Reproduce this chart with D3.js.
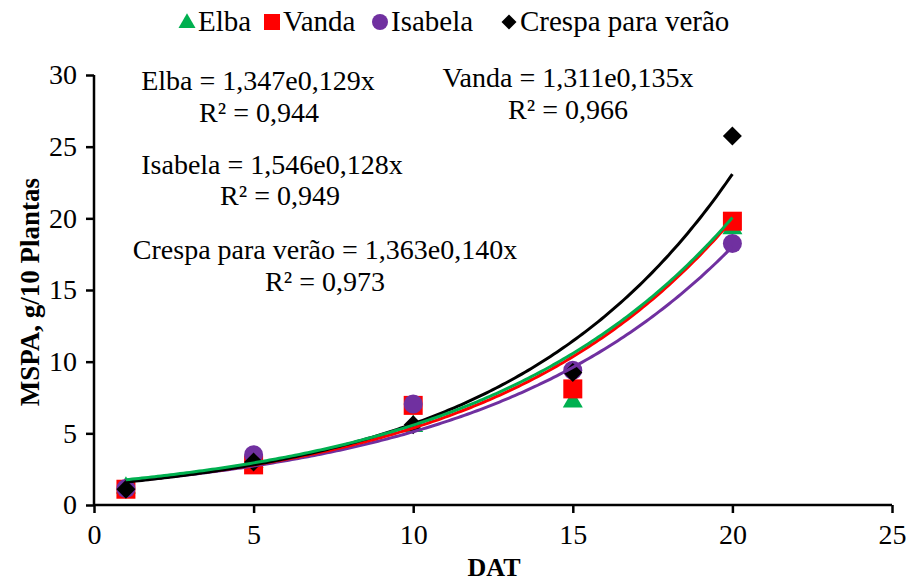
<!DOCTYPE html>
<html><head><meta charset="utf-8">
<script src="https://cdn.jsdelivr.net/npm/d3@7/dist/d3.min.js"></script>
<style>body{margin:0;background:#fff}svg{display:block}text{font-family:"Liberation Serif","Times New Roman",serif}</style>
</head><body><svg id="c" width="906" height="583"></svg>
<script>
const days = [1, 5, 10, 15, 20];
const seriesNames = ["Elba", "Vanda", "Isabela", "Crespa para verão"];
const elba = [1.2, 3.0, 5.5, 7.2, 19.3];
const vanda = [1.1, 2.8, 6.95, 8.1, 19.8];
const isabela = [1.15, 3.5, 7.05, 9.4, 18.25];
const crespa = [1.1, 3.0, 5.6, 9.25, 25.75];
// trend curves y = a*exp(b*x), as drawn in the picture
const trendA = [1.55, 1.45, 1.45, 1.39];
const trendB = [0.128, 0.131, 0.126, 0.1405];
const equations = ["Elba = 1,347e0,129x", "Vanda = 1,311e0,135x", "Isabela = 1,546e0,128x", "Crespa para verão = 1,363e0,140x"];
const r2Labels = ["R² = 0,944", "R² = 0,966", "R² = 0,949", "R² = 0,973"];
const xTicks = [0, 5, 10, 15, 20, 25];
const yTicks = [0, 5, 10, 15, 20, 25, 30];
const colors = ["#00B050", "#FF0000", "#7030A0", "#000000"];
const values = [elba, vanda, isabela, crespa];

const svg = d3.select("#c");
const x = d3.scaleLinear().domain([0, 25]).range([94, 892]);
const y = d3.scaleLinear().domain([0, 30]).range([505, 75]);

// marker shape generators (triangle, square, circle, diamond = rotated square)
function marker(i, s) {
  if (i === 0) { const h = s * Math.sqrt(3) / 2; return `M0,${-h * 2 / 3}L${s / 2},${h / 3}L${-s / 2},${h / 3}Z`; }
  if (i === 1) return `M${-s / 2},${-s / 2}h${s}v${s}h${-s}Z`;
  if (i === 2) return d3.symbol().type(d3.symbolCircle).size(Math.PI * s * s / 4)();
  return `M0,${-s / 2}L${s / 2},0L0,${s / 2}L${-s / 2},0Z`;
}

// axes
const xAxis = svg.append("g").attr("transform", `translate(0,${y(0)})`)
  .call(d3.axisBottom(x).tickValues(xTicks).tickSize(8).tickPadding(11));
const yAxis = svg.append("g").attr("transform", `translate(${x(0)},0)`)
  .call(d3.axisLeft(y).tickValues(yTicks).tickSize(8).tickPadding(9));
[xAxis, yAxis].forEach(g => {
  g.select(".domain").attr("stroke", "#000").attr("stroke-width", 2.5);
  g.selectAll(".tick line").attr("stroke", "#000").attr("stroke-width", 2.5);
  g.selectAll(".tick text").attr("font-size", 28).attr("fill", "#000")
    .style("font-family", '"Liberation Serif", serif');
});
xAxis.select(".domain").attr("d", `M${x(0)},0H${x(25)}`);
yAxis.select(".domain").attr("d", `M0,${y(0)}V${y(30)}`);

// markers
const mSize = [20, 19, 19, 19];
[0, 1, 2, 3].forEach(i => {
  svg.append("g").selectAll("path").data(days.map((d, k) => [d, values[i][k]])).join("path")
    .attr("transform", d => `translate(${x(d[0])},${y(d[1])})`)
    .attr("d", marker(i, mSize[i]))
    .attr("fill", colors[i]);
});

// trend lines
const xs = d3.range(1, 20.001, 0.1);
[2, 1, 3, 0].forEach(i => {
  const line = d3.line().x(d => x(d)).y(d => y(trendA[i] * Math.exp(trendB[i] * d)));
  svg.append("path").datum(xs).attr("d", line).attr("fill", "none")
    .attr("stroke", colors[i]).attr("stroke-width", 3);
});

// equation labels
const eqPos = [[258, 90], [568, 87], [272, 174], [325, 259]];
const r2Pos = [[259, 122], [568, 119], [280, 205], [325, 291]];
equations.forEach((t, i) => {
  svg.append("text").attr("x", eqPos[i][0]).attr("y", eqPos[i][1]).attr("text-anchor", "middle")
    .attr("font-size", 28).text(t);
  svg.append("text").attr("x", r2Pos[i][0]).attr("y", r2Pos[i][1]).attr("text-anchor", "middle")
    .attr("font-size", 28).text(r2Labels[i]);
});

// axis titles
svg.append("text").attr("x", 494).attr("y", 576).attr("text-anchor", "middle")
  .attr("font-size", 26).attr("font-weight", "bold").text("DAT");
svg.append("text").attr("transform", "translate(39,292) rotate(-90)").attr("text-anchor", "middle")
  .attr("font-size", 27).attr("font-weight", "bold").text("MSPA, g/10 Plantas");

// legend
const legX = [187, 272, 380, 509];
const legS = [17, 16, 16, 15];
seriesNames.forEach((n, i) => {
  svg.append("path").attr("transform", `translate(${legX[i]},${i === 0 ? 23 : 22})`)
    .attr("d", marker(i, legS[i])).attr("fill", colors[i]);
  svg.append("text").attr("x", legX[i] + 11).attr("y", 31).attr("font-size", 29).text(n);
});
</script></body></html>
